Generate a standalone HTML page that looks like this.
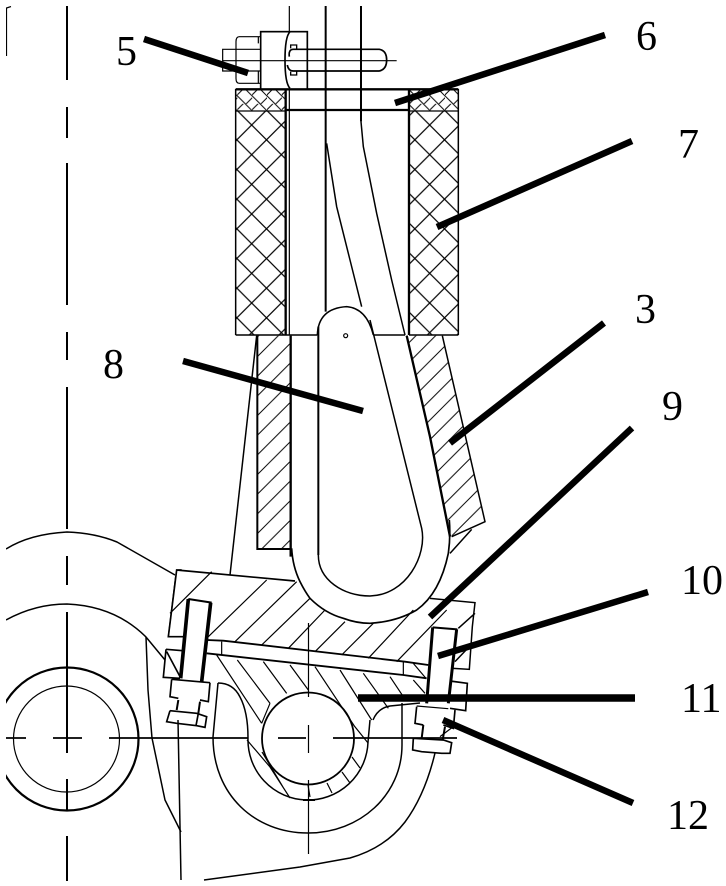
<!DOCTYPE html>
<html><head><meta charset="utf-8"><style>
html,body{margin:0;padding:0;background:#fff}
svg{display:block}
text{font-family:"Liberation Serif",serif;font-size:42px;fill:#000}
</style></head><body>
<svg width="726" height="886" viewBox="0 0 726 886" xmlns="http://www.w3.org/2000/svg">
<defs>
<pattern id="x" patternUnits="userSpaceOnUse" width="89" height="89">
<path d="M-10,55L34,99M14,-10L99,75M-10,72L72,-10M52,99L99,52" stroke="#000" stroke-width="3.6" fill="none"/>
</pattern>
<pattern id="xf" patternUnits="userSpaceOnUse" width="44.5" height="44.5">
<path d="M-10,10.500L24,44.500M0,-24L54,30.500M-10,27.500L27.500,-10M17,54L54,17" stroke="#000" stroke-width="3" fill="none"/>
</pattern>
<pattern id="h" patternUnits="userSpaceOnUse" width="59" height="59">
<path d="M-10,25L25,-10M-10,84L84,-10" stroke="#000" stroke-width="3" fill="none"/>
</pattern>
<clipPath id="c"><rect x="6" y="6" width="714" height="875"/></clipPath>
</defs>
<rect width="726" height="886" fill="#fff"/>
<g fill="none" stroke="#000" stroke-width="1.2" clip-path="url(#c)">

<!-- centre lines -->
<path stroke-width="2" d="M67,6V80M67,107V138M67,163V305M67,332V360M67,387V529M67,556V585M67,612V753M67,779V810M67,836V881"/>
<path stroke-width="1.8" d="M6,738H26M53,738H82M109,738H248M278,738H306M333,738H457"/>
<path d="M308.500,725V753M308.500,623V697M308.500,780V854"/>
<path d="M6.500,56V8L11,6.500"/>

<!-- left rollers -->
<circle cx="67" cy="739" r="71.500" stroke-width="2.200"/>
<circle cx="66.500" cy="739" r="53"/>
<path stroke-width="1.500" d="M6,549Q30,534 67,532Q95,533 117,542L175,575"/>
<path stroke-width="1.500" d="M6,620Q35,604 67,604Q115,606 146,637L165,660"/>
<path stroke-width="1.500" d="M146,637L148,690L152,738L165,800L181,832"/>
<path stroke-width="1.500" d="M178,720L181,880"/>

<!-- big lower outline -->
<path stroke-width="1.500" d="M204,880L300,867L350,858Q385,848 405,822Q425,795 435,753"/>
<path stroke-width="1.500" d="M218,683L213,737C213,795 255,833 308,833C360,833 402,795 402,745V703"/>
<path stroke-width="1.500" d="M218,683Q233,683 240,697Q248,712 248,738"/>
<path stroke-width="1.500" d="M373,720Q378,708 390,706L420,703"/>

<!-- pin and bushing -->
<circle cx="308" cy="738.500" r="46" stroke-width="1.800"/>
<path stroke-width="1.500" d="M248,738A60,60 0 0 0 368,742L370,720"/>
<path stroke-width="2" d="M303,800H315"/>
<path d="M308,785L310,797M327,783L332,793M342,772L350,783M352,757L360,768"/>
<path d="M247,740L270,767L290,798M262,752L283,787"/>

<!-- top: cross-hatched sleeve -->
<g transform="scale(.33333)" stroke-width="3.600">
<rect x="707" y="333" width="150" height="672" fill="url(#x)" stroke="none"/>
<rect x="1227" y="333" width="148" height="672" fill="url(#x)" stroke="none"/>
<rect x="707" y="267" width="150" height="66" fill="url(#xf)" stroke="none"/>
<rect x="1227" y="267" width="148" height="66" fill="url(#xf)" stroke="none"/>
<path stroke-width="4.500" d="M707,267V1005M1375,267V1005"/>
<path stroke-width="7" d="M857,267V1005M1227,267V1005"/>
<path stroke-width="7" d="M707,268H1375M857,330H1227"/>
<path d="M707,333H857M1227,333H1375"/>
<path stroke-width="4.500" d="M707,1005H952M1120,1005H1215M1227,1005H1375"/>
<path d="M868,18V1005"/>
<path stroke-width="6" d="M977,18V935"/>
<path stroke-width="6" d="M1083,18V365"/>
<path stroke-width="4.500" d="M1083,365L1090,440L1130,640L1175,840L1215,1005"/>
<path stroke-width="4.500" d="M980,430L1010,620L1050,780L1085,920"/>
<path stroke-width="4.500" d="M952,1005Q955,925 1040,920Q1100,925 1120,1005"/>
<!-- nut and pin -->
<rect x="782" y="95" width="140" height="172" stroke-width="5" fill="#fff"/>
<path stroke-width="5" d="M870,95Q855,110 855,180Q855,250 870,265"/>
<path stroke-width="3.600" d="M782,148H668V213H782M782,110H718Q708,110 708,125V235Q708,250 718,250H782M775,110V130M775,215V250"/>
<path stroke-width="5" d="M868,170Q865,148 880,148H1138Q1160,152 1160,180Q1160,208 1138,213H880Q865,213 862,195"/>
<path stroke-width="4" d="M872,145V135H890V148M872,215V225H890V213"/>
<path d="M668,182H1190"/>
</g>

<!-- shackle and wedges -->
<g transform="translate(230,320) scale(.33333)" stroke-width="4.500">
<path d="M82,47H180V687H82Z" fill="url(#h)" stroke="none"/>
<path d="M532,47H637L765,605L665,650Z" fill="url(#h)" stroke="none"/>
<path stroke-width="6" d="M82,47V687H180"/>
<path d="M637,47L765,605L665,650M660,700L725,628"/>
<path stroke-width="7" d="M182,47V710"/>
<path stroke-width="7" d="M530,47L600,350L660,650"/>
<path stroke-width="6" d="M265,20V705"/>
<path d="M420,0L575,625C592,705 530,825 420,828C340,828 265,780 265,705"/>
<path d="M80,47L0,765"/>
<circle cx="347" cy="47" r="6" stroke-width="3.600"/>
</g>

<!-- lower block, bolts -->
<g transform="translate(0,520) scale(.33333)" stroke-width="3.600">
<path stroke-width="5" d="M875,85Q878,140 900,185Q915,215 930,235Q975,280 1030,295Q1070,310 1110,310Q1190,305 1250,270Q1320,220 1345,100Q1352,50 1348,0"/>
<path stroke-width="5" d="M545,150H530L505,350H550M530,150L885,183"/>
<path d="M527,168L505,350"/>
<path stroke-width="4.500" d="M1290,235L1425,248L1417,320L1408,448L1360,445M1400,388L1365,425M1425,280L1375,325"/>
<path d="M510,280L635,155M625,350L800,180M705,365L890,185M785,375L930,235M865,385L975,270M945,395L1035,305M1025,405L1120,310M1105,415L1240,270M1190,425L1340,270"/>
<!-- rod -->
<path stroke-width="5.500" d="M620,360L670,362L1215,425L1285,435"/>
<path stroke-width="5.500" d="M620,400L1210,465L1280,475"/>
<path d="M665,365V405M1210,425V465M1240,430L1278,475"/>
<!-- hatching under the rod -->
<path d="M650,405L785,610M712,420L810,550M790,425L860,520M870,435L925,510M945,440L1063,618L1105,670M1020,450L1115,600M1090,460L1165,565M1170,470L1210,530M1240,480L1275,520M810,550L785,610"/>
<!-- left bolt -->
<path stroke-width="6" d="M565,237L635,248"/>
<path stroke-width="11" d="M565,237L542,475"/>
<path stroke-width="11" d="M632,248L605,485"/>
<path stroke-width="5" d="M498,388L548,392M498,388L490,472L540,475M500,395L540,470M515,478L630,488M515,478L510,530L535,535M630,488L625,545L600,540"/>
<path stroke-width="6" d="M535,540L530,570M600,545L595,580"/>
<path stroke-width="5" d="M510,572L500,605L530,610L590,617L615,622L620,590L590,580L510,572M595,580L588,617"/>
<!-- right bolt -->
<path stroke-width="6" d="M1298,322L1372,328"/>
<path stroke-width="9" d="M1298,322L1280,550"/>
<path stroke-width="9" d="M1370,328L1345,550"/>
<path stroke-width="5" d="M1350,483L1402,490L1397,572L1350,565M1250,560L1245,610L1270,615M1365,570L1360,625L1330,615"/>
<path stroke-width="6" d="M1270,615L1265,655M1335,620L1328,660"/>
<path stroke-width="5" d="M1240,655L1238,690L1265,695L1325,700L1350,700L1355,668L1330,660L1240,655"/>
<path d="M1250,558L1345,566M1360,620L1320,650"/>
</g>
</g>

<!-- leaders -->
<g stroke="#000" stroke-width="6.500" fill="none">
<path d="M144,39L248,73"/>
<path d="M605,35L395,103"/>
<path d="M632,141L437,227"/>
<path d="M604,323L450,443"/>
<path d="M632,428L430,617"/>
<path d="M648,592L438,656"/>
<path stroke-width="7.500" d="M635,698H358"/>
<path d="M633,803L443,720"/>
<path d="M183,361L363,411"/>
</g>

<text x="116" y="65">5</text>
<text x="636" y="50">6</text>
<text x="678" y="158">7</text>
<text x="635" y="323">3</text>
<text x="662" y="420">9</text>
<text x="103" y="378">8</text>
<text x="681" y="594">10</text>
<text x="681" y="712">11</text>
<text x="667" y="829">12</text>
</svg>
</body></html>
